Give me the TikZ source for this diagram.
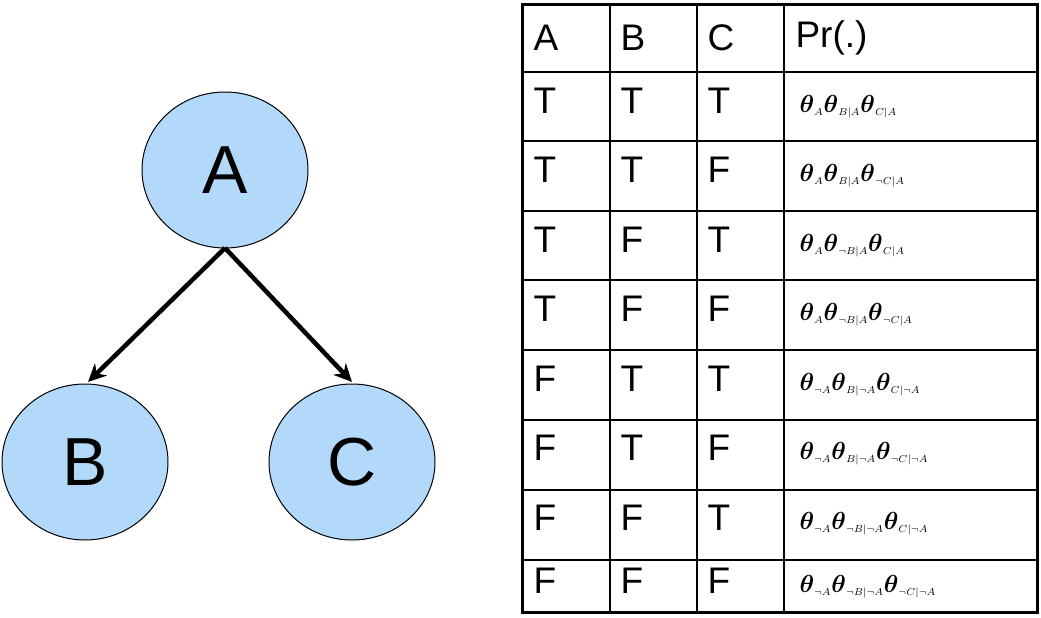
\documentclass[tikz,border=0pt]{standalone}
\usepackage{amsmath}
\usepackage{fontspec}
\setmainfont{Liberation Sans}
\usetikzlibrary{arrows.meta,shapes.geometric}
\definecolor{nodeblue}{HTML}{B3D9FA}
\newcommand\tht{\scalebox{1.7}{$\boldsymbol{\theta}$}}
\begin{document}
\begin{tikzpicture}[x=1pt,y=-1pt,
  var/.style={ellipse,draw,line width=1pt,fill=nodeblue,minimum width=166pt,minimum height=156pt,inner sep=0pt,font=\fontsize{68}{68}\selectfont},
  edge/.style={line width=4.5pt,-{Stealth[length=18pt,width=17pt]}},
  cell/.style={anchor=west,font=\fontsize{37}{37}\selectfont},
  pr/.style={anchor=west}]
\useasboundingbox (0,0) rectangle (1041,618);
\node[var] (A) at (225,170) {A};
\node[var] (B) at (85,462) {B};
\node[var] (C) at (352,462) {C};
\coordinate (Abot) at (225,248);
\coordinate (Btop) at (88,382);
\coordinate (Ctop) at (352,382);
\draw[edge] (Abot) -- (Btop);
\draw[edge] (Abot) -- (Ctop);
% table
\foreach \y in {72,141,211,280,350,420,490,560} \draw[line width=1.2pt] (522,\y) -- (1037,\y);
\foreach \x in {610,697,784} \draw[line width=1.2pt] (\x,5) -- (\x,612);
\draw[line width=3pt] (522,5) rectangle (1037,612);
\node[cell] (h1) at (530,38) {A};
\node[cell] (h2) at (617,38) {B};
\node[cell] (h3) at (704,38) {C};
\node[cell] (h4) at (792,38) {Pr(.)};
\def\ty{{101,170,240,309,379,448,518,581}}
\foreach \a/\b/\c/\p [count=\i from 0] in {
 T/T/T/{\tht_{A}\tht_{B|A}\tht_{C|A}},
 T/T/F/{\tht_{A}\tht_{B|A}\tht_{\neg C|A}},
 T/F/T/{\tht_{A}\tht_{\neg B|A}\tht_{C|A}},
 T/F/F/{\tht_{A}\tht_{\neg B|A}\tht_{\neg C|A}},
 F/T/T/{\tht_{\neg A}\tht_{B|\neg A}\tht_{C|\neg A}},
 F/T/F/{\tht_{\neg A}\tht_{B|\neg A}\tht_{\neg C|\neg A}},
 F/F/T/{\tht_{\neg A}\tht_{\neg B|\neg A}\tht_{C|\neg A}},
 F/F/F/{\tht_{\neg A}\tht_{\neg B|\neg A}\tht_{\neg C|\neg A}}}{
  \pgfmathsetmacro\yy{\ty[\i]}
  \node[cell] (a\i) at (530,\yy) {\a};
  \node[cell] (b\i) at (617,\yy) {\b};
  \node[cell] (c\i) at (704,\yy) {\c};
  \node[pr] (p\i) at (796,\yy+6) {\scalebox{1.45}{$\p$}};
}
\end{tikzpicture}
\end{document}
